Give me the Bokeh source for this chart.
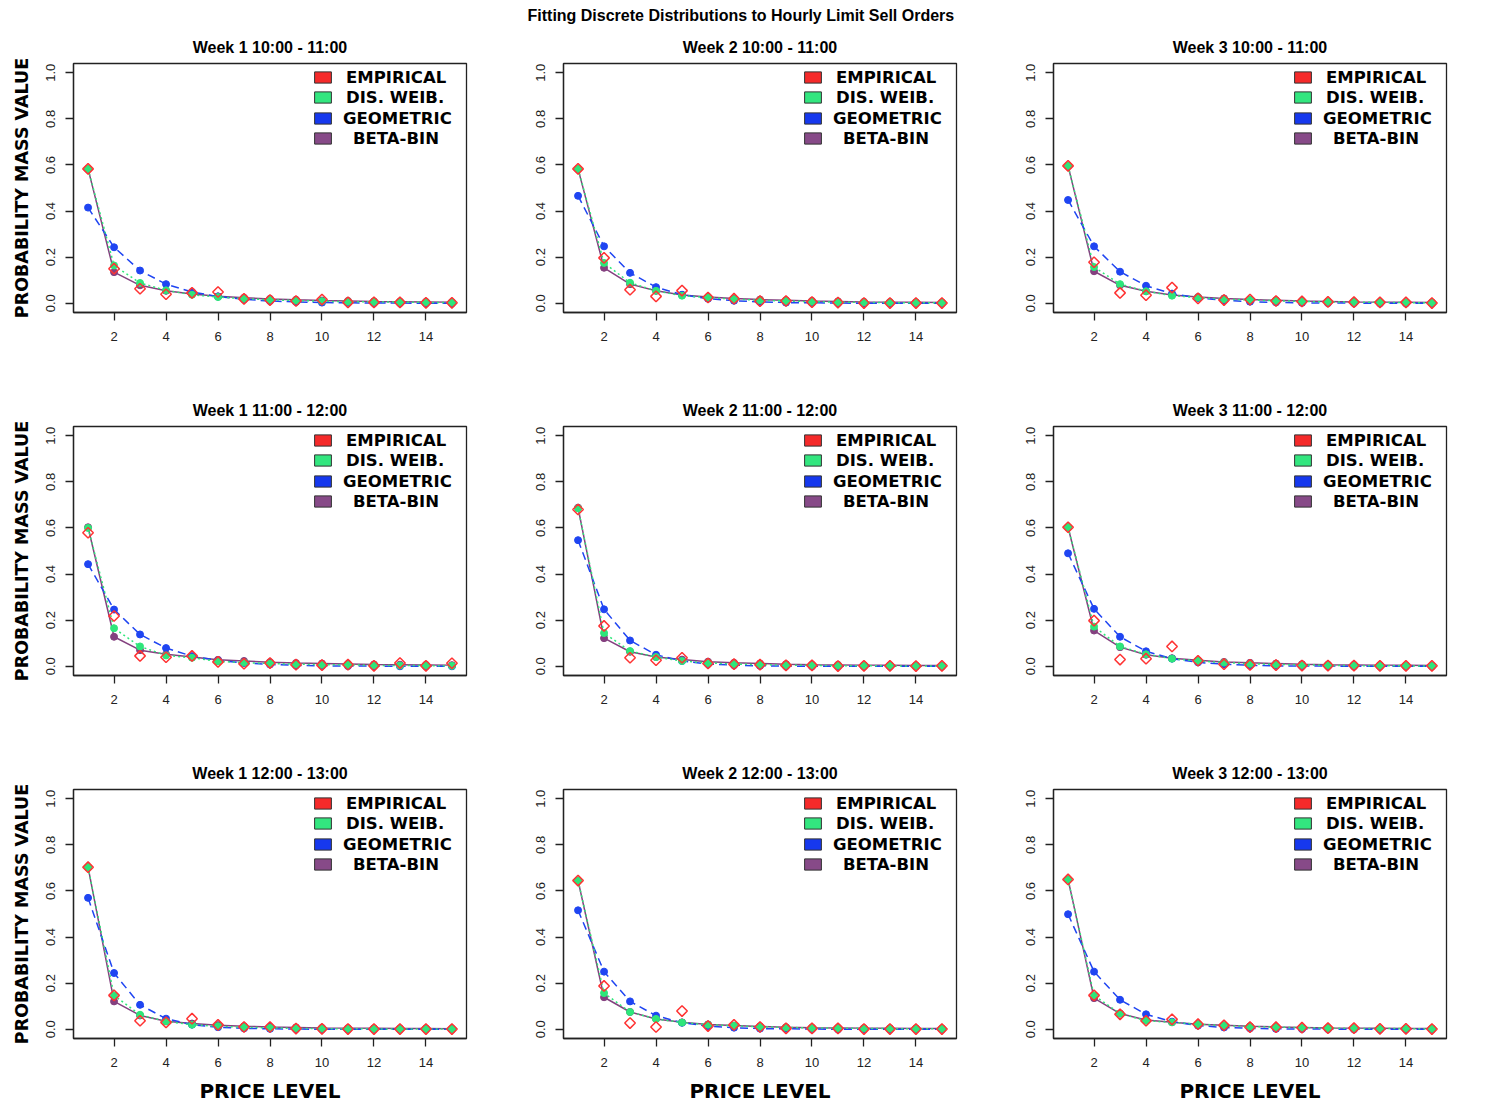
import math
from bokeh.plotting import figure
from bokeh.layouts import column, row
from bokeh.models import Range1d, FixedTicker, Legend, LegendItem, Title, PrintfTickFormatter
from bokeh.embed import file_html
from bokeh.resources import INLINE

# ---------------- data ----------------
PRICE_LEVELS = [1, 2, 3, 4, 5, 6, 7, 8, 9, 10, 11, 12, 13, 14, 15]
X_TICKS = [2, 4, 6, 8, 10, 12, 14]
Y_TICKS = [0.0, 0.2, 0.4, 0.6, 0.8, 1.0]
SERIES_NAMES = ["EMPIRICAL", "DIS. WEIB.", "GEOMETRIC", "BETA-BIN"]
MAIN_TITLE = "Fitting Discrete Distributions to Hourly Limit Sell Orders"
WEEKS = ["Week 1", "Week 2", "Week 3"]
HOURS = ["10:00 - 11:00", "11:00 - 12:00", "12:00 - 13:00"]

# Week 1, 10:00 - 11:00
w1_h10_emp = [0.583, 0.150, 0.063, 0.039, 0.045, 0.049, 0.019, 0.014, 0.010, 0.016, 0.004, 0.004, 0.004, 0.002, 0.002]
w1_h10_weib = [0.583, 0.164, 0.088, 0.056, 0.037, 0.027, 0.020, 0.015, 0.012, 0.009, 0.007, 0.006, 0.005, 0.004, 0.003]
w1_h10_geom = [0.415, 0.243, 0.142, 0.083, 0.049, 0.029, 0.017, 0.010, 0.006, 0.003, 0.002, 0.001, 0.001, 0.000, 0.000]
w1_h10_bb = [0.583, 0.135, 0.078, 0.054, 0.040, 0.030, 0.024, 0.019, 0.015, 0.012, 0.010, 0.008, 0.007, 0.006, 0.005]
# Week 2, 10:00 - 11:00
w2_h10_emp = [0.583, 0.197, 0.059, 0.030, 0.055, 0.025, 0.020, 0.009, 0.010, 0.005, 0.003, 0.001, 0.001, 0.001, 0.001]
w2_h10_weib = [0.583, 0.175, 0.089, 0.054, 0.033, 0.025, 0.018, 0.013, 0.010, 0.007, 0.005, 0.004, 0.003, 0.002, 0.002]
w2_h10_geom = [0.466, 0.247, 0.132, 0.070, 0.037, 0.020, 0.011, 0.006, 0.003, 0.002, 0.001, 0.000, 0.000, 0.000, 0.000]
w2_h10_bb = [0.583, 0.154, 0.083, 0.054, 0.036, 0.027, 0.021, 0.016, 0.013, 0.010, 0.008, 0.006, 0.005, 0.004, 0.003]
# Week 3, 10:00 - 11:00
w3_h10_emp = [0.596, 0.178, 0.045, 0.035, 0.068, 0.021, 0.014, 0.016, 0.010, 0.008, 0.006, 0.005, 0.004, 0.004, 0.001]
w3_h10_weib = [0.596, 0.157, 0.083, 0.052, 0.033, 0.025, 0.018, 0.014, 0.011, 0.008, 0.006, 0.005, 0.004, 0.003, 0.002]
w3_h10_geom = [0.448, 0.247, 0.137, 0.076, 0.042, 0.023, 0.013, 0.007, 0.004, 0.002, 0.001, 0.001, 0.000, 0.000, 0.000]
w3_h10_bb = [0.596, 0.139, 0.078, 0.052, 0.036, 0.027, 0.021, 0.016, 0.013, 0.010, 0.008, 0.006, 0.005, 0.004, 0.003]
# Week 1, 11:00 - 12:00
w1_h11_emp = [0.579, 0.218, 0.045, 0.039, 0.045, 0.019, 0.011, 0.014, 0.007, 0.005, 0.007, 0.002, 0.014, 0.002, 0.013]
w1_h11_weib = [0.600, 0.165, 0.086, 0.047, 0.037, 0.021, 0.016, 0.012, 0.009, 0.007, 0.006, 0.004, 0.003, 0.003, 0.002]
w1_h11_geom = [0.443, 0.246, 0.138, 0.079, 0.044, 0.025, 0.014, 0.008, 0.004, 0.002, 0.001, 0.001, 0.000, 0.000, 0.000]
w1_h11_bb = [0.603, 0.128, 0.070, 0.052, 0.040, 0.028, 0.023, 0.018, 0.014, 0.012, 0.010, 0.008, 0.007, 0.006, 0.005]
# Week 2, 11:00 - 12:00
w2_h11_emp = [0.680, 0.175, 0.037, 0.026, 0.037, 0.012, 0.009, 0.007, 0.004, 0.004, 0.001, 0.002, 0.002, 0.001, 0.002]
w2_h11_weib = [0.685, 0.144, 0.066, 0.040, 0.023, 0.014, 0.010, 0.007, 0.005, 0.004, 0.003, 0.002, 0.002, 0.001, 0.001]
w2_h11_geom = [0.547, 0.247, 0.112, 0.050, 0.023, 0.010, 0.005, 0.002, 0.001, 0.000, 0.000, 0.000, 0.000, 0.000, 0.000]
w2_h11_bb = [0.688, 0.122, 0.063, 0.040, 0.029, 0.020, 0.015, 0.012, 0.009, 0.007, 0.006, 0.005, 0.004, 0.003, 0.003]
# Week 3, 11:00 - 12:00
w3_h11_emp = [0.603, 0.198, 0.029, 0.033, 0.086, 0.024, 0.009, 0.006, 0.005, 0.003, 0.003, 0.003, 0.002, 0.002, 0.002]
w3_h11_weib = [0.603, 0.172, 0.086, 0.052, 0.033, 0.023, 0.016, 0.011, 0.008, 0.006, 0.004, 0.003, 0.002, 0.002, 0.001]
w3_h11_geom = [0.490, 0.249, 0.128, 0.065, 0.033, 0.017, 0.009, 0.004, 0.002, 0.001, 0.001, 0.000, 0.000, 0.000, 0.000]
w3_h11_bb = [0.603, 0.155, 0.083, 0.050, 0.035, 0.026, 0.019, 0.015, 0.012, 0.009, 0.007, 0.006, 0.005, 0.004, 0.003]
# Week 1, 12:00 - 13:00
w1_h12_emp = [0.703, 0.147, 0.037, 0.030, 0.046, 0.019, 0.010, 0.010, 0.003, 0.002, 0.001, 0.001, 0.001, 0.001, 0.001]
w1_h12_weib = [0.703, 0.147, 0.063, 0.034, 0.020, 0.013, 0.009, 0.006, 0.004, 0.003, 0.002, 0.002, 0.001, 0.001, 0.001]
w1_h12_geom = [0.570, 0.244, 0.106, 0.046, 0.020, 0.009, 0.004, 0.002, 0.001, 0.000, 0.000, 0.000, 0.000, 0.000, 0.000]
w1_h12_bb = [0.703, 0.121, 0.060, 0.035, 0.025, 0.018, 0.013, 0.010, 0.008, 0.006, 0.005, 0.004, 0.003, 0.003, 0.002]
# Week 2, 12:00 - 13:00
w2_h12_emp = [0.645, 0.188, 0.027, 0.010, 0.079, 0.014, 0.019, 0.010, 0.004, 0.004, 0.004, 0.001, 0.001, 0.001, 0.001]
w2_h12_weib = [0.645, 0.157, 0.075, 0.045, 0.029, 0.020, 0.015, 0.011, 0.008, 0.006, 0.005, 0.004, 0.003, 0.002, 0.002]
w2_h12_geom = [0.516, 0.250, 0.121, 0.059, 0.028, 0.014, 0.007, 0.003, 0.002, 0.001, 0.000, 0.000, 0.000, 0.000, 0.000]
w2_h12_bb = [0.645, 0.139, 0.075, 0.045, 0.030, 0.021, 0.016, 0.012, 0.009, 0.007, 0.006, 0.005, 0.004, 0.003, 0.003]
# Week 3, 12:00 - 13:00
w3_h12_emp = [0.650, 0.147, 0.065, 0.037, 0.043, 0.022, 0.017, 0.009, 0.009, 0.007, 0.005, 0.005, 0.002, 0.002, 0.001]
w3_h12_weib = [0.650, 0.147, 0.068, 0.037, 0.030, 0.022, 0.016, 0.012, 0.009, 0.007, 0.005, 0.004, 0.003, 0.003, 0.002]
w3_h12_geom = [0.499, 0.250, 0.128, 0.065, 0.033, 0.016, 0.008, 0.004, 0.002, 0.001, 0.001, 0.000, 0.000, 0.000, 0.000]
w3_h12_bb = [0.650, 0.135, 0.068, 0.040, 0.031, 0.022, 0.017, 0.013, 0.010, 0.008, 0.006, 0.005, 0.004, 0.003, 0.003]

PANELS = [
    [(w1_h10_emp, w1_h10_weib, w1_h10_geom, w1_h10_bb),
     (w2_h10_emp, w2_h10_weib, w2_h10_geom, w2_h10_bb),
     (w3_h10_emp, w3_h10_weib, w3_h10_geom, w3_h10_bb)],
    [(w1_h11_emp, w1_h11_weib, w1_h11_geom, w1_h11_bb),
     (w2_h11_emp, w2_h11_weib, w2_h11_geom, w2_h11_bb),
     (w3_h11_emp, w3_h11_weib, w3_h11_geom, w3_h11_bb)],
    [(w1_h12_emp, w1_h12_weib, w1_h12_geom, w1_h12_bb),
     (w2_h12_emp, w2_h12_weib, w2_h12_geom, w2_h12_bb),
     (w3_h12_emp, w3_h12_weib, w3_h12_geom, w3_h12_bb)],
]

# ---------------- styles ----------------
RED = "#FF3333"
GREEN = "#2EE67A"
BLUE = "#1F45F2"
PURPLE = "#84407F"
LEG_COLORS = ["#F52A2A", "#33E67F", "#1638EE", "#874A88"]
LEG_STANDOFFS = [13, 13, 10, 20]
AX = "#222222"
TICK_FONT = "Liberation Sans"
WIDE_FONT = "DejaVu Sans"

FW, FH = 393, 249
FIG_W = 490


def make_panel(r, c, data):
    emp, weib, geom, bb = data
    top = 63 if r == 0 else 55
    bottom = 59 if r < 2 else 68
    p = figure(width=FIG_W, height=FH + top + bottom,
               x_range=Range1d(0.44, 15.56), y_range=Range1d(-0.04, 1.04),
               output_backend="svg", toolbar_location=None,
               min_border_left=65, min_border_right=32,
               min_border_top=top, min_border_bottom=bottom)
    p.title_location = None
    p.background_fill_color = "white"
    p.border_fill_color = "white"
    p.outline_line_color = AX
    p.outline_line_width = 1.3
    p.xgrid.visible = False
    p.ygrid.visible = False

    p.add_layout(Title(text=f"{WEEKS[c]} {HOURS[r]}", align="center",
                       text_font=TICK_FONT, text_font_style="bold",
                       text_font_size="16px", text_color="black", standoff=16), "above")
    if r == 0 and c == 1:
        p.add_layout(Title(text=MAIN_TITLE, align="left", offset=-36,
                           text_font=TICK_FONT, text_font_style="bold",
                           text_font_size="16px", text_color="black", standoff=9), "above")

    for ax in (p.xaxis[0], p.yaxis[0]):
        ax.axis_line_color = AX
        ax.axis_line_width = 1.3
        ax.major_tick_line_color = AX
        ax.major_tick_line_width = 1.3
        ax.major_tick_out = 8
        ax.major_tick_in = 0
        ax.minor_tick_line_color = None
        ax.major_label_text_font = TICK_FONT
        ax.major_label_text_font_size = "13px"
        ax.major_label_text_color = AX
        ax.axis_label_text_font = WIDE_FONT
        ax.axis_label_text_font_style = "bold"
        ax.axis_label_text_color = "black"

    p.xaxis.ticker = FixedTicker(ticks=X_TICKS)
    p.xaxis.major_label_standoff = 11
    p.yaxis.ticker = FixedTicker(ticks=Y_TICKS)
    p.yaxis.formatter = PrintfTickFormatter(format="%.1f")
    p.yaxis.major_label_orientation = "vertical"
    p.yaxis.major_label_standoff = 10

    if c == 0:
        p.yaxis.axis_label = "PROBABILITY MASS VALUE"
        p.yaxis.axis_label_text_font_size = "17.5px"
        p.yaxis.axis_label_standoff = 12
    if r == 2:
        p.xaxis.axis_label = "PRICE LEVEL"
        p.xaxis.axis_label_text_font_size = "20px"
        p.xaxis.axis_label_standoff = 9

    # series
    p.line(PRICE_LEVELS, bb, line_color=PURPLE, line_width=1.5)
    p.scatter(PRICE_LEVELS, bb, size=7, fill_color=PURPLE, line_color=PURPLE)
    p.line(PRICE_LEVELS, geom, line_color=BLUE, line_width=1.5, line_dash="8 5")
    p.scatter(PRICE_LEVELS, geom, size=7, fill_color=BLUE, line_color=BLUE)
    p.line(PRICE_LEVELS, weib, line_color=GREEN, line_width=1.5, line_dash="2 3")
    p.scatter(PRICE_LEVELS, weib, size=7, fill_color=GREEN, line_color=GREEN)
    p.scatter(PRICE_LEVELS, emp, marker="square", angle=math.pi / 4, size=7.5,
              fill_color=None, line_color=RED, line_width=1.5)

    # legend: one entry per Legend so each label can sit centred like the original
    nan = float("nan")
    for i, (name, col) in enumerate(zip(SERIES_NAMES, LEG_COLORS)):
        rr = p.quad(left=[nan], right=[nan], top=[nan], bottom=[nan], fill_color=col,
                    line_color="#333333", line_width=1)
        leg = Legend(items=[LegendItem(label=name, renderers=[rr])],
                     location=(239, round(225 - 20.3 * i)),
                     glyph_width=21, glyph_height=14,
                     label_standoff=LEG_STANDOFFS[i],
                     label_text_font=WIDE_FONT, label_text_font_style="bold",
                     label_text_font_size="16.5px", label_text_color="black",
                     label_height=20, spacing=0, padding=0, margin=0,
                     border_line_color=None, background_fill_alpha=0)
        p.add_layout(leg, "center")
    return p


rows = []
for r in range(3):
    rows.append(row(*[make_panel(r, c, PANELS[r][c]) for c in range(3)]))
layout = column(*rows, margin=(0, 0, 0, 8))

open("out.html", "w").write(file_html(layout, INLINE))
